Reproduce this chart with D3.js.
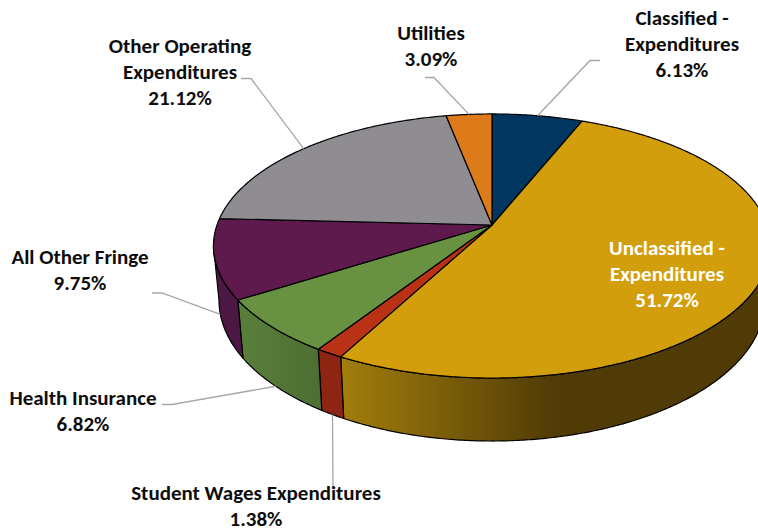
<!DOCTYPE html>
<html>
<head>
<meta charset="utf-8">
<script src="https://cdn.jsdelivr.net/npm/d3@7/dist/d3.min.js"></script>
<style>
html,body{margin:0;padding:0;background:#fff}
svg{display:block}
text{font-family:Carlito,Calibri,Lato,"Open Sans",sans-serif;font-weight:700;font-size:21px;text-anchor:middle;fill:#0d0d0d}
</style>
</head>
<body>
<svg id="chart" width="758" height="531"></svg>
<script>
// Data, in clockwise order from 12 o'clock
const categories = ["Classified - Expenditures","Unclassified - Expenditures","Student Wages Expenditures","Health Insurance","All Other Fringe","Other Operating Expenditures","Utilities"];
const values = [6.13,51.72,1.38,6.82,9.75,21.12,3.09];
const valueLabels = ["6.13%","51.72%","1.38%","6.82%","9.75%","21.12%","3.09%"];
const topColors = ["#003660","#D29E0C","#B93216","#689142","#5E1A4C","#8F8D92","#DD7A19"];
const wallColorsFrom = ["#002a4a","#A27E0C","#8E2412","#5A7F3C","#4C1743","#6f6d72","#a85c12"];
const wallColorsTo = ["#002a4a","#503A06","#8E2412","#4D6F33","#4C1743","#6f6d72","#a85c12"];
const labelLines = [["Classified -","Expenditures"],["Unclassified -","Expenditures"],["Student Wages Expenditures"],["Health Insurance"],["All Other Fringe"],["Other Operating","Expenditures"],["Utilities"]];

// Layout
const W = 758, H = 531, cx = 492, cy = 225;
const persp = 0.159, radiusX = 275, radiusY = 128.7;
const baseScale = 0.98, baseYScale = 1.064, baseDrop = 53.2;
const labelX = [682,667,256,83,80,180,431];
const labelY = [25,255,499.5,405,264,53,40];
const lineGap = 26;
const labelFill = ["#0d0d0d","#fff","#0d0d0d","#0d0d0d","#0d0d0d","#0d0d0d","#0d0d0d"];
// Leader: which rim it starts from and the elbow(s) toward the label
const leaderRim = ["top",null,"base","base","base","top","top"];
const leaderElbows = [[[590,60.5],[600,60.5]],null,[[333,487]],[[172,404.5],[162,404.5]],[[162,293],[152,293]],[[251,78.5],[241,78.5]],[[434,77.5],[425,77.5]]];

const svg = d3.select("#chart");
const defs = svg.append("defs");

const pie = d3.pie().sort(null).value(d => d).startAngle(0).endAngle(2*Math.PI);
const arcs = pie(values);

const sx = d3.scaleLinear().domain([-1,1]).range([cx-radiusX,cx+radiusX]);
const sy = d3.scaleLinear().domain([-1,1]).range([cy-radiusY,cy+radiusY]);

function project(a, rim){
  const u = Math.sin(a), v = -Math.cos(a), den = 1 - persp*v;
  const xn = u/den, yn = v/den;
  if(rim === "top") return [sx(xn), sy(yn)];
  return [cx + (sx(xn)-cx)*baseScale, cy + baseDrop + (sy(yn)-cy)*baseYScale];
}
const line = d3.line();
const step = Math.PI/360;
function angles(a0,a1){
  const n = Math.max(1,Math.ceil((a1-a0)/step));
  return d3.range(n+1).map(i => a0+(a1-a0)*i/n);
}
// Rim silhouette angles: side wall is visible only between these
const wallStart = Math.PI - Math.acos(persp), wallEnd = Math.PI + Math.acos(persp);

// Side walls
const wallG = svg.append("g");
arcs.forEach((d,i)=>{
  const a0 = Math.max(d.startAngle,wallStart), a1 = Math.min(d.endAngle,wallEnd);
  if(a1<=a0) return;
  const top = angles(a0,a1).map(a=>project(a,"top"));
  const base = angles(a0,a1).reverse().map(a=>project(a,"base"));
  const id = "wall"+i;
  const startX = project(d.endAngle,"top")[0];
  const g = defs.append("linearGradient").attr("id",id).attr("gradientUnits","userSpaceOnUse")
    .attr("x1",startX).attr("x2", i===1 ? startX+218 : project(a0,"top")[0]).attr("y1",0).attr("y2",0);
  g.append("stop").attr("offset",0).attr("stop-color",wallColorsFrom[i]);
  g.append("stop").attr("offset",1).attr("stop-color",wallColorsTo[i]);
  wallG.append("path").attr("d",line(top.concat(base))+"Z")
    .attr("fill",`url(#${id})`).attr("stroke","#000").attr("stroke-width",1.2).attr("stroke-linejoin","round");
});

// Top faces
const topG = svg.append("g");
arcs.forEach((d,i)=>{
  const pts = [[cx,cy]].concat(angles(d.startAngle,d.endAngle).map(a=>project(a,"top")));
  topG.append("path").attr("d",line(pts)+"Z").attr("fill",topColors[i])
    .attr("stroke","#000").attr("stroke-width",1.2).attr("stroke-linejoin","round");
});

// Leaders
const leadG = svg.append("g");
arcs.forEach((d,i)=>{
  if(!leaderRim[i]) return;
  const pts = [project((d.startAngle+d.endAngle)/2,leaderRim[i])].concat(leaderElbows[i]);
  leadG.append("path").attr("d",line(pts)).attr("fill","none").attr("stroke","#A6A6A6").attr("stroke-width",1.3);
});

// Labels
const labG = svg.append("g");
categories.forEach((c,i)=>{
  const lines = labelLines[i].concat([valueLabels[i]]);
  lines.forEach((t,j)=>{
    labG.append("text").attr("x",labelX[i]).attr("y",labelY[i]+j*lineGap).style("fill",labelFill[i]).text(t);
  });
});
</script>
</body>
</html>
